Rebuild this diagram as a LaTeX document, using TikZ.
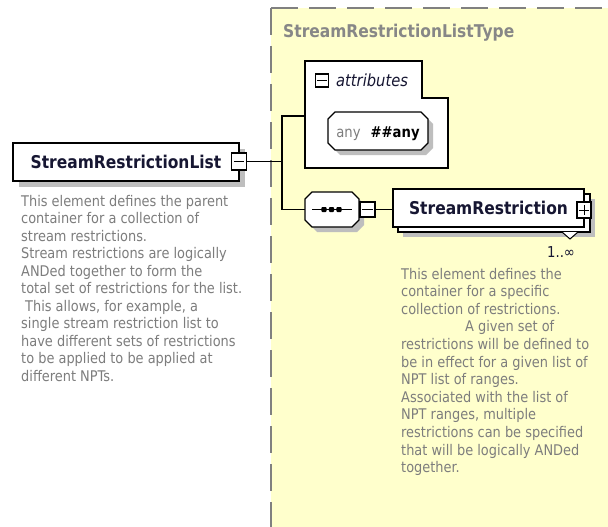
\documentclass[tikz,border=0pt]{standalone}
\usepackage{fontspec}
\setmainfont{DejaVu Sans}[FakeStretch=0.88]
\definecolor{ylw}{RGB}{255,255,204}
\definecolor{dashgray}{RGB}{128,128,128}
\definecolor{txtgray}{RGB}{125,125,125}
\definecolor{ttlgray}{RGB}{135,135,135}
\definecolor{shd}{RGB}{190,190,190}
\definecolor{ink}{RGB}{22,22,50}
\begin{document}
\begin{tikzpicture}[x=1pt,y=-1pt,
  bx/.style={draw=black,line width=1.1pt,fill=white},
  conn/.style={draw=black,line width=1.1pt},
  elname/.style={font=\bfseries\fontsize{17.6}{21}\selectfont,text=ink},
  desc/.style={font=\fontsize{14.7}{17.5}\selectfont,text=txtgray,inner sep=0pt,anchor=base west},
  tog/.style={bx,minimum width=15pt,minimum height=15pt,inner sep=0pt},
  dashln/.style={draw=dashgray,line width=1.3pt,dash pattern=on 27pt off 11pt}
]
\useasboundingbox (0,0) rectangle (608,527);
\fill[white] (0,0) rectangle (608,527);
% complex type area
\fill[ylw] (271,8) rectangle (608,527);
\draw[dashln] (271,8) -- (271,527);
\draw[dashln] (271,8) -- (608,8);
\node[font=\bfseries\fontsize{17.6}{21}\selectfont,text=ttlgray,inner sep=0pt,anchor=base west] (ttl) at (283,38) {StreamRestrictionListType};

% named anchors
\coordinate (ja) at (282,116);
\coordinate (jb) at (282,209.5);
\node[inner sep=0pt,minimum width=143pt,minimum height=107pt] (attr) at (376.5,114.5) {};
\node[inner sep=0pt,minimum width=54pt,minimum height=35pt] (seq) at (332,209.5) {};

% main element
\fill[shd] (19,149) rectangle (245,187);
\node[bx,elname,minimum width=226pt,minimum height=38pt,inner sep=0pt] (srl) at (126,162) {StreamRestrictionList};
\node[tog,minimum height=17pt] (srlm) at (239,161.5) {};
\draw[line width=1pt] ([xshift=3pt]srlm.west) -- ([xshift=-3pt]srlm.east);

% connectors
\draw[conn] (srlm.east) -- (srlm.east -| ja);
\draw[conn] (attr.west |- ja) -- (ja) -- (jb) -- (seq.west |- jb);

% left description
\foreach \t [count=\i from 0] in {{This element defines the parent},{container for a collection of},{stream restrictions.},{Stream restrictions are logically},{ANDed together to form the},{total set of restrictions for the list.},{\hspace*{4pt}This allows, for example, a},{single stream restriction list to},{have different sets of restrictions},{to be applied to be applied at},{different NPTs.}}
  \node[desc] (ld\i) at (21,{206+17.5*\i}) {\t};

% attributes group
\draw[bx] (305,61) -- (422,61) -- (422,98) -- (448,98) -- (448,168) -- (305,168) -- cycle;
\node[tog,minimum width=13pt,minimum height=13pt] (attrm) at (322,80.5) {};
\draw[line width=1pt] ([xshift=2.5pt]attrm.west) -- ([xshift=-2.5pt]attrm.east);
\node[font=\itshape\fontsize{16.7}{20}\selectfont,text=ink,inner sep=0pt,anchor=base west] (attrl) at (336,86) {attributes};

% any attribute
\fill[shd] (340,117) -- (426,117) -- (433,124) -- (433,148) -- (426,155) -- (340,155) -- (333,148) -- (333,124) -- cycle;
\draw[bx] (335,112) -- (421,112) -- (428,119) -- (428,143) -- (421,150) -- (335,150) -- (328,143) -- (328,119) -- cycle;
\node[inner sep=0pt,anchor=base,font=\fontsize{15}{18}\selectfont] (anyl) at (378,137) {\textcolor{txtgray}{any}\hspace{10pt}\textcolor{black}{\bfseries\#\#any}};

% sequence compositor
\fill[shd] (317,197) -- (357,197) -- (364,204) -- (364,225) -- (357,232) -- (317,232) -- (310,225) -- (310,204) -- cycle;
\draw[bx] (312,192) -- (352,192) -- (359,199) -- (359,220) -- (352,227) -- (312,227) -- (305,220) -- (305,199) -- cycle;
\draw[line width=1.1pt] (312,209.5) -- (352,209.5);
\foreach \dx in {324,331.5,339} \fill[rounded corners=1pt] (\dx-2.6,207) rectangle (\dx+2.6,212);
\node[tog] (seqm) at (367.5,209.5) {};
\draw[line width=1pt] ([xshift=3pt]seqm.west) -- ([xshift=-3pt]seqm.east);

% StreamRestriction element (repeating)
\fill[shd] (403,199) rectangle (595,237);
\draw[bx] (398,194) rectangle (590,232);
\node[bx,elname,minimum width=191pt,minimum height=38pt,inner sep=0pt] (srel) at (488.5,208) {StreamRestriction};
\draw[conn] (seqm.east) -- (srel.west |- seqm.east);
\node[tog,minimum width=14pt,minimum height=16pt] (srelp) at (584,210) {};
\draw[line width=1pt] ([xshift=3pt]srelp.west) -- ([xshift=-3pt]srelp.east);
\draw[line width=1pt] ([yshift=-3.5pt]srelp.north) -- ([yshift=3.5pt]srelp.south);
\draw[line width=1pt,fill=white] (562,232) -- (570,239) -- (578,232);
\node[font=\fontsize{15}{18}\selectfont,text=ink,inner sep=0pt,anchor=base west] (card) at (547,257) {1..∞};

% right description
\foreach \t [count=\i from 0] in {{This element defines the},{container for a specific},{collection of restrictions.},{\hspace*{64pt}A given set of},{restrictions will be defined to},{be in effect for a given list of},{NPT list of ranges.},{Associated with the list of},{NPT ranges, multiple},{restrictions can be specified},{that will be logically ANDed},{together.}}
  \node[desc] (rd\i) at (401,{279+17.6*\i}) {\t};
\end{tikzpicture}
\end{document}
